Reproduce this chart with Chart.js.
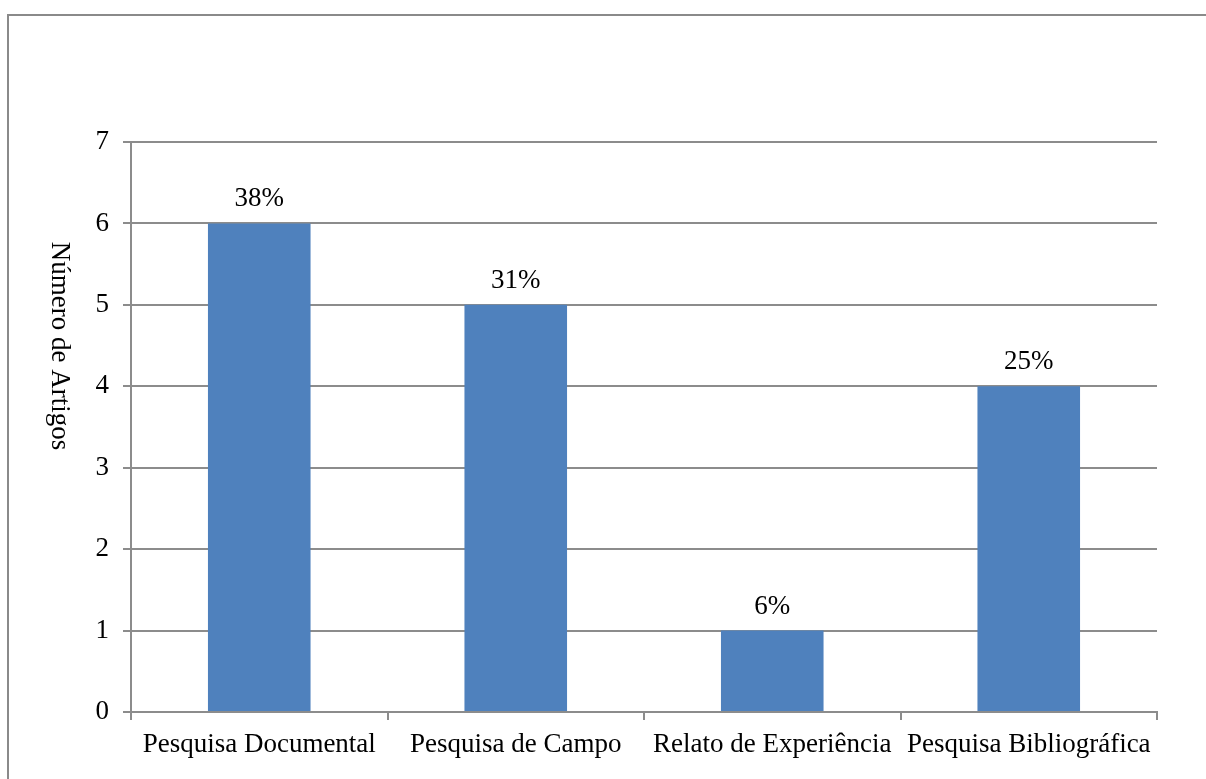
<!DOCTYPE html>
<html>
<head>
<meta charset="utf-8">
<script src="https://cdn.jsdelivr.net/npm/chart.js@4"></script>
<style>
	html, body { margin: 0; padding: 0; background: #fff; }
	#wrap { position: relative; width: 1206px; height: 779px; overflow: hidden; }
	#frame { position: absolute; left: 7px; top: 14px; width: 1300px; height: 900px; border-left: 2px solid #8a8a8a; border-top: 2px solid #8a8a8a; }
	#myChart { position: absolute; left: 0; top: 0; }
</style>
</head>
<body>
<div id="wrap">
	<div id="frame"></div>
	<canvas id="myChart" width="1206" height="779"></canvas>
</div>
<script>
let categories = ["Pesquisa Documental", "Pesquisa de Campo", "Relato de Experiência", "Pesquisa Bibliográfica"];
let artigos = [6, 5, 1, 4];
let percentLabels = ["38%", "31%", "6%", "25%"];
let yTicks = [0, 1, 2, 3, 4, 5, 6, 7];

let fontFamily = "'Liberation Serif', 'Times New Roman', serif";
let fontSize = 27;
let lineGray = "#8c8c8c";

// percent above each bar
let barLabels = {
	id: "barLabels",
	afterDatasetsDraw: function(chart){
		let ctx = chart.ctx;
		let meta = chart.getDatasetMeta(0);
		ctx.save();
		ctx.font = fontSize + "px " + fontFamily;
		ctx.fillStyle = "#000";
		ctx.textAlign = "center";
		ctx.textBaseline = "alphabetic";
		for(let i in meta.data){
			let bar = meta.data[i];
			ctx.fillText(percentLabels[i], bar.x, bar.y - 17);
		}
		ctx.restore();
	}
};

// y title reads top to bottom
let yTitle = {
	id: "yTitle",
	afterDraw: function(chart){
		let ctx = chart.ctx;
		ctx.save();
		ctx.translate(59, 346);
		ctx.rotate(Math.PI / 2);
		ctx.font = fontSize + "px " + fontFamily;
		ctx.fillStyle = "#000";
		ctx.textAlign = "center";
		ctx.textBaseline = "middle";
		ctx.fillText("Número de Artigos", 0, 0);
		ctx.restore();
	}
};

let ctx = document.getElementById("myChart");
let chart = new Chart(ctx, {
	type: "bar",
	data: {
		labels: categories,
		datasets: [{
			label: "Número de Artigos",
			data: artigos,
			backgroundColor: "#4f81bd",
			borderWidth: 0,
			barPercentage: 0.4,
			categoryPercentage: 1.0
		}]
	},
	options: {
		animation: false,
		responsive: false,
		layout: { padding: { left: 0, top: 142, right: 49, bottom: 0 } },
		plugins: {
			legend: { display: false },
			tooltip: { enabled: false }
		},
		scales: {
			x: {
				afterFit: function(scale){ scale.height = 67; },
				grid: {
					offset: true,
					drawOnChartArea: false,
					drawTicks: true,
					tickLength: 8,
					color: lineGray,
					lineWidth: 2
				},
				border: { color: lineGray, width: 2 },
				ticks: {
					color: "#000",
					padding: 9,
					maxRotation: 0,
					autoSkip: false,
					font: { family: fontFamily, size: fontSize }
				}
			},
			y: {
				min: 0,
				max: 7,
				afterFit: function(scale){ scale.width = 131; },
				afterBuildTicks: function(scale){
					scale.ticks = yTicks.map(function(v){ return { value: v }; });
				},
				grid: {
					color: lineGray,
					lineWidth: 2,
					drawTicks: true,
					tickLength: 8
				},
				border: { color: lineGray, width: 2 },
				ticks: {
					color: "#000",
					padding: 14,
					font: { family: fontFamily, size: fontSize }
				}
			}
		}
	},
	plugins: [barLabels, yTitle]
});
</script>
</body>
</html>
